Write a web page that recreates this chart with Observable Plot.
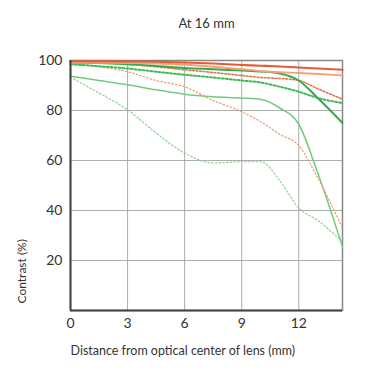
<!DOCTYPE html>
<html>
<head>
<meta charset="utf-8">
<script src="https://cdn.jsdelivr.net/npm/d3@7"></script>
<script src="https://cdn.jsdelivr.net/npm/@observablehq/plot@0.6"></script>
<style>
  body { margin: 0; background: #fff; }
  svg { font-family: Lato, "Open Sans", sans-serif; }
</style>
</head>
<body>
<div id="chart"></div>
<script>
const title = "At 16 mm";
const xLabel = "Distance from optical center of lens (mm)";
const yLabel = "Contrast (%)";
const xTicks = [0, 3, 6, 9, 12];
const yTicks = [20, 40, 60, 80, 100];

// distance from center (mm)
const xs = [0, 1.5, 3, 4.5, 6, 7.5, 9, 10, 11, 12, 13, 14.3];

const redSolid        = [99.7, 99.7, 99.6, 99.5, 99.2, 98.8, 98.2, 97.9, 97.6, 97.2, 96.8, 96.3];
const orangeSolid     = [99.2, 99.1, 99.0, 98.8, 98.3, 97.5, 96.5, 95.8, 95.3, 95.0, 94.6, 94.0];
const redDotted       = [99.3, 99.0, 98.5, 97.5, 96.3, 95.2, 94.0, 93.2, 92.8, 92.0, 88.7, 84.5];
const orangeDotted    = [98.8, 97.5, 95.5, 92.0, 89.5, 84.0, 79.5, 75.5, 70.5, 66.0, 53.0, 33.0];
const greenSolid      = [99.2, 99.0, 98.5, 97.8, 97.0, 96.5, 96.0, 95.6, 94.8, 92.0, 85.0, 75.0];
const greenDotted     = [98.5, 97.7, 96.8, 95.5, 94.3, 93.2, 92.0, 91.2, 89.5, 87.5, 85.0, 83.0];
const ltGreenSolid    = [93.7, 92.0, 90.3, 88.3, 86.5, 85.5, 85.0, 84.5, 81.0, 74.5, 55.0, 25.5];
const ltGreenDotted   = [93.3, 87.0, 80.3, 71.0, 63.0, 59.0, 59.5, 59.5, 52.0, 41.0, 36.0, 27.5];

const seriesDefs = [
  {name: "ltGreenDotted", values: ltGreenDotted, color: "#86d48e", width: 1.2, dash: "1.5,2.2"},
  {name: "ltGreenSolid",  values: ltGreenSolid,  color: "#72cc7c", width: 1.5, dash: null},
  {name: "orangeDotted",  values: orangeDotted,  color: "#f09878", width: 1.2, dash: "1.5,2.2"},
  {name: "greenDotted",   values: greenDotted,   color: "#3fbb55", width: 2,   dash: "2,2"},
  {name: "redDotted",     values: redDotted,     color: "#e8704a", width: 1.6, dash: "1.8,1.8"},
  {name: "greenSolid",    values: greenSolid,    color: "#2fae47", width: 2,   dash: null},
  {name: "orangeSolid",   values: orangeSolid,   color: "#f4a078", width: 1.8, dash: null},
  {name: "redSolid",      values: redSolid,      color: "#e85a30", width: 2.2, dash: null}
];

const lineMarks = seriesDefs.map(s =>
  Plot.line(xs.map((x, i) => ({x, y: s.values[i]})), {
    x: "x", y: "y",
    stroke: s.color,
    strokeWidth: s.width,
    strokeDasharray: s.dash,
    curve: "monotone-x"
  })
);

const chart = Plot.plot({
  width: 380,
  height: 375,
  marginLeft: 70,
  marginRight: 38,
  marginTop: 60,
  marginBottom: 65,
  style: {fontSize: "14px", color: "#333", background: "#fff"},
  x: {domain: [0, 14.3]},
  y: {domain: [0, 100]},
  marks: [
    Plot.gridX(xTicks, {stroke: "#999", strokeOpacity: 0.8, strokeWidth: 1}),
    Plot.gridY(yTicks, {stroke: "#999", strokeOpacity: 0.8, strokeWidth: 1}),
    Plot.frame({stroke: "#888", strokeWidth: 1.5}),
    Plot.axisX(xTicks, {tickSize: 0, tickPadding: 8, fontSize: 14, fill: "#333", label: null}),
    Plot.axisY(yTicks, {tickSize: 0, tickPadding: 8, fontSize: 14, fill: "#333", label: null}),
    ...lineMarks,
    Plot.ruleX([0], {stroke: "#444", strokeWidth: 2}),
    Plot.ruleY([0], {stroke: "#444", strokeWidth: 2}),
    Plot.text([title], {frameAnchor: "top", dy: -42, fontSize: 13, fill: "#333"}),
    Plot.text([xLabel], {frameAnchor: "bottom-left", textAnchor: "start", dy: 44, fontSize: 12.5, fill: "#333"}),
    Plot.text([yLabel], {frameAnchor: "bottom-left", textAnchor: "start", rotate: -90, dx: -45, dy: -7, fontSize: 12, fill: "#333"})
  ]
});

document.getElementById("chart").appendChild(chart);
</script>
</body>
</html>
